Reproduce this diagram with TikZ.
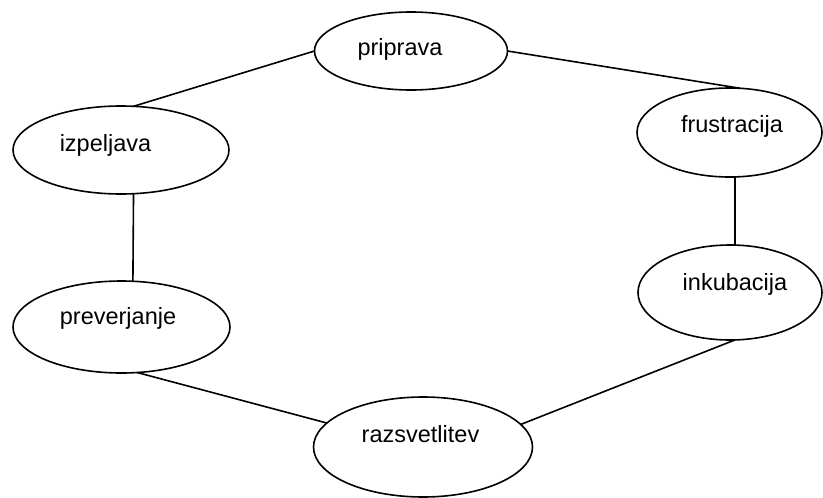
\documentclass[tikz,border=0pt]{standalone}
\usepackage{fontspec}
\setmainfont{Liberation Sans}
\usetikzlibrary{shapes.geometric}
\begin{document}
\begin{tikzpicture}[x=1pt,y=-1pt,
  phase/.style={draw=black,line width=1.6pt,ellipse,inner sep=0pt,outer sep=0pt},
  word/.style={anchor=base,inner sep=0pt,font=\fontsize{23.5}{28}\selectfont},
  link/.style={draw=black,line width=1.6pt}]
\useasboundingbox (0,0) rectangle (823,498);

% stage outlines
\node[phase,minimum width=193pt,minimum height=78pt]  (pri) at (411,51)    {};
\node[phase,minimum width=185pt,minimum height=89pt]  (fru) at (729.5,132.5) {};
\node[phase,minimum width=216pt,minimum height=88pt]  (izp) at (121,150)   {};
\node[phase,minimum width=184pt,minimum height=95pt]  (ink) at (730,292.5) {};
\node[phase,minimum width=217pt,minimum height=92pt]  (pre) at (121.5,327) {};
\node[phase,minimum width=219pt,minimum height=100pt] (raz) at (423,447)   {};

% stage names
\node[word] (tpri) at (400,55)    {priprava};
\node[word] (tfru) at (732,132)   {frustracija};
\node[word] (tizp) at (105.5,151) {izpeljava};
\node[word] (tink) at (735,290)   {inkubacija};
\node[word] (tpre) at (118,324)   {preverjanje};
\node[word] (traz) at (420.5,442) {razsvetlitev};

% cycle links
\draw[link] (pri.west) -- (izp.74.2);
\draw[link] (pri.east) -- (fru.76.4);
\draw[link] (fru.-83) -- (ink.84);
\draw[link] (izp.-74.7) -- (pre.76);
\draw[link] (pre.-71.8) -- (raz.166.2);
\draw[link] (raz.13.8) -- (ink.-84);
\end{tikzpicture}
\end{document}
